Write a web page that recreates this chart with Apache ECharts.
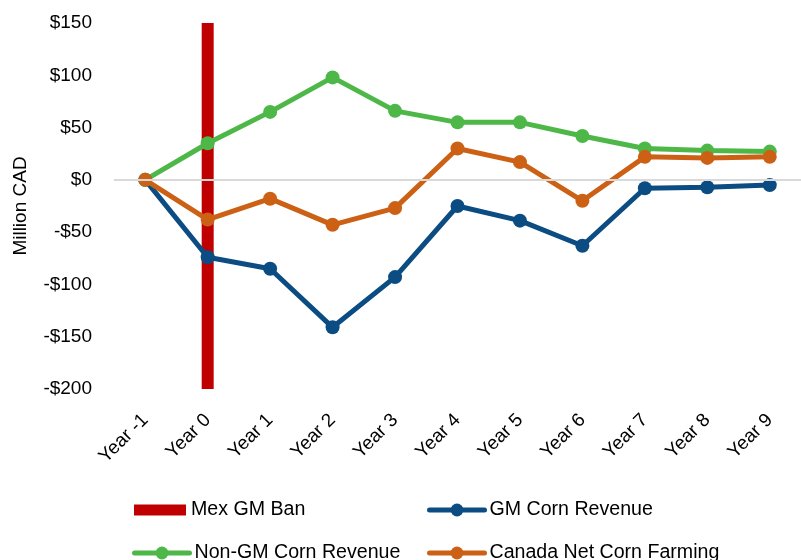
<!DOCTYPE html>
<html>
<head>
<meta charset="utf-8">
<script src="https://cdn.jsdelivr.net/npm/echarts@6/dist/echarts.min.js"></script>
<style>html,body{margin:0;padding:0;background:#fff}#c{width:801px;height:560px}</style>
</head>
<body>
<div id="c"></div>
<script>
const categories = ['Year -1','Year 0','Year 1','Year 2','Year 3','Year 4','Year 5','Year 6','Year 7','Year 8','Year 9'];
const banTop =    [null, 150, null, null, null, null, null, null, null, null, null];
const banBottom = [null, -200, null, null, null, null, null, null, null, null, null];
const gmCornRevenue =    [0, -74, -85, -141, -93, -25, -39, -63, -8, -7, -5];
const nonGmCornRevenue = [0, 35, 65, 98, 66, 55, 55, 42, 30, 28, 27];
const canadaNetFarming = [0, -38, -18, -43, -27, 30, 17, -20, 22, 21, 22];
const yTicks = {min: -200, max: 150, interval: 50};

const FONT = "'Liberation Sans', Arial, sans-serif";
const chart = echarts.init(document.getElementById('c'), null, {renderer: 'canvas'});
const lineSeries = (name, data, color) => ({
  name, type: 'line', data,
  symbol: 'circle', symbolSize: 14,
  lineStyle: {color, width: 5},
  itemStyle: {color},
  z: 3
});
const legendText = {fontSize: 19.6, color: '#000', fontFamily: FONT};
const mkLegend = (name, left, top, isLine) => ({
  left, top, orient: 'horizontal', itemGap: 0, padding: 0,
  itemWidth: isLine ? 55 : 52, itemHeight: isLine ? 16 : 11,
  textStyle: legendText,
  lineStyle: isLine ? {width: 5, cap: 'round'} : undefined,
  data: [isLine ? name : {name, icon: 'rect'}]
});
chart.setOption({
  animation: false,
  textStyle: {fontFamily: FONT},
  grid: {left: 114, right: -4, top: 23, bottom: 171, containLabel: false},
  xAxis: {
    type: 'category', data: categories, boundaryGap: true,
    axisLine: {show: false}, axisTick: {show: false},
    axisLabel: {rotate: 45, margin: 28, fontSize: 19, color: '#000', fontFamily: FONT, interval: 0}
  },
  yAxis: {
    type: 'value', min: yTicks.min, max: yTicks.max, interval: yTicks.interval,
    name: 'Million CAD', nameLocation: 'middle', nameGap: 84,
    nameTextStyle: {fontSize: 19, color: '#000', fontFamily: FONT},
    axisLine: {show: false}, axisTick: {show: false}, splitLine: {show: false},
    axisLabel: {fontSize: 19, color: '#000', margin: 22, fontFamily: FONT, padding: [6, 0, 0, 0],
      formatter: v => (v < 0 ? '-$' + Math.abs(v) : '$' + v)}
  },
  legend: [
    mkLegend('Mex GM Ban', 134, 500, false),
    mkLegend('GM Corn Revenue', 427, 500, true),
    mkLegend('Non-GM Corn Revenue', 132, 543, true),
    mkLegend('Canada Net Corn Farming', 427, 543, true)
  ],
  series: [
    {name: 'Mex GM Ban', type: 'bar', data: banTop, barWidth: 12, barGap: '-100%',
     itemStyle: {color: '#C00000'}, z: 2,
     markLine: {silent: true, symbol: 'none', label: {show: false},
       lineStyle: {color: '#D9D9D9', width: 2, type: 'solid'},
       data: [{yAxis: 0}]}},
    {name: 'Mex GM Ban', type: 'bar', data: banBottom, barWidth: 12, barGap: '-100%',
     itemStyle: {color: '#C00000'}, z: 2},
    lineSeries('GM Corn Revenue', gmCornRevenue, '#0B4C82'),
    lineSeries('Non-GM Corn Revenue', nonGmCornRevenue, '#4DB848'),
    lineSeries('Canada Net Corn Farming', canadaNetFarming, '#CC6115')
  ]
});
</script>
</body>
</html>
